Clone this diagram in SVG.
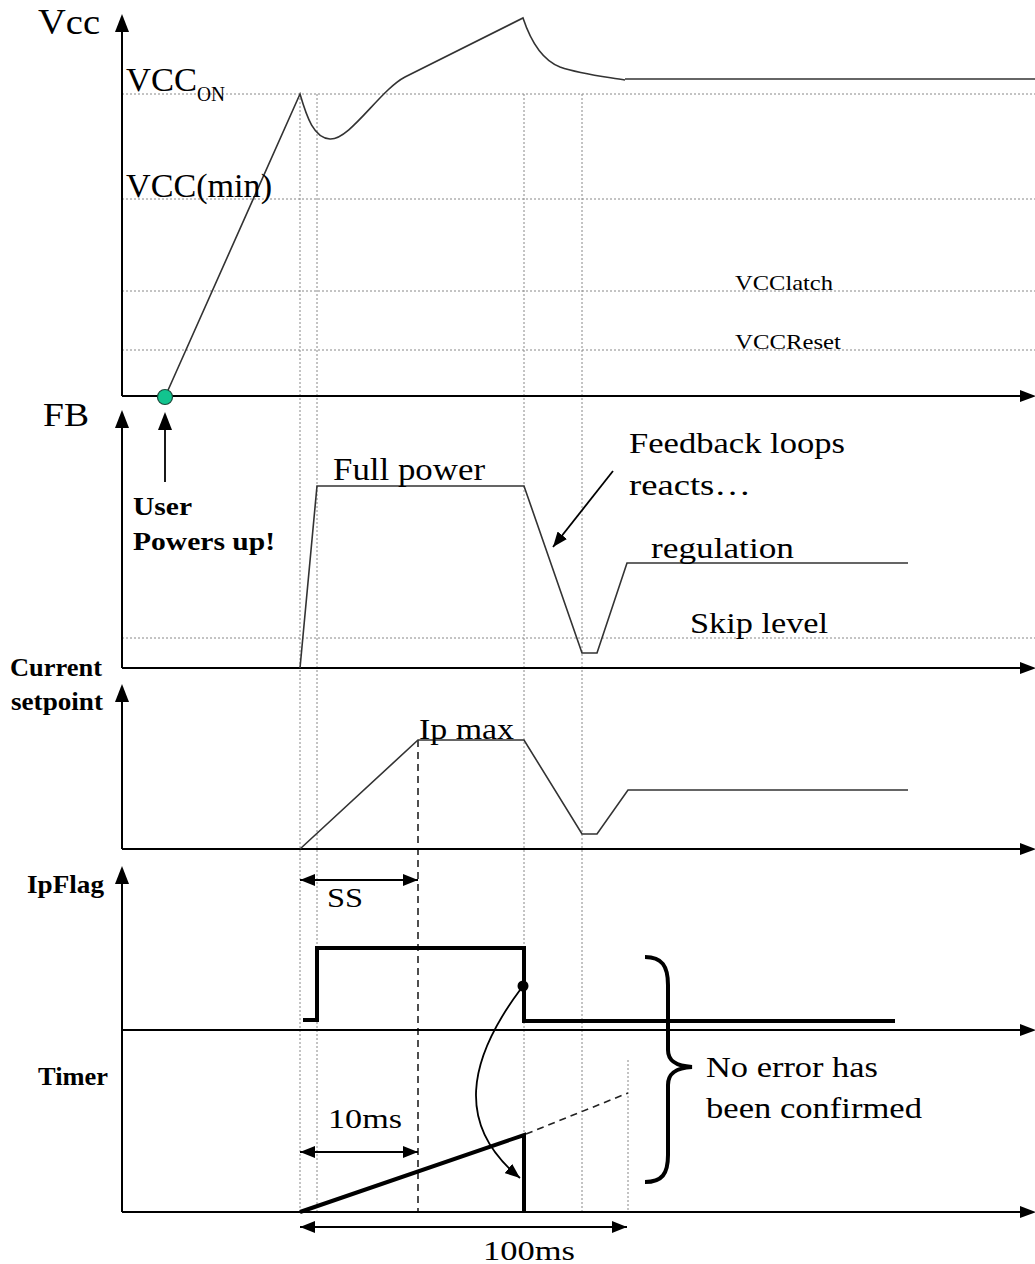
<svg xmlns="http://www.w3.org/2000/svg" width="1035" height="1264" viewBox="0 0 1035 1264">
<style>
text{font-family:"Liberation Serif","Times New Roman",serif;fill:#000}
.b{font-weight:bold}
.axis{stroke:#000;stroke-width:2;fill:none}
.grid{stroke:#888;stroke-width:1;stroke-dasharray:2 2;fill:none}
.wave{stroke:#333;stroke-width:1.6;fill:none;stroke-linejoin:miter}
.thick{stroke:#000;stroke-width:4;fill:none}
.dim{stroke:#000;stroke-width:1.8;fill:none}
.dash{stroke:#222;stroke-width:1.6;stroke-dasharray:7 5;fill:none}
.head{fill:#000}
</style>
<defs>
<marker id="ah" markerUnits="userSpaceOnUse" viewBox="0 0 15 12" refX="15" refY="6" markerWidth="15" markerHeight="12" orient="auto-start-reverse">
<path d="M0,0 L15,6 L0,12 z" fill="#000"/>
</marker>
</defs>
<rect width="1035" height="1264" fill="#fff"/>

<g id="grid">
<path class="grid" d="M122,94H1035M122,199H1035M122,291H1035M122,350H1035M122,638H1035"/>
<path class="grid" d="M300,94V1212M317,94V1212M524,94V1212M582,94V1212M628,1060V1212"/>
<path class="dash" d="M418,740V1212"/>
</g>

<g id="axes">
<path class="axis" d="M122,28V396M122,424V668M122,698V849M122,880V1212"/>
<path class="axis" d="M122,396H1022M122,668H1022M122,849H1022M122,1030H1022M122,1212H1022"/>
<polygon class="head" points="122,14 115,32 129,32"/>
<polygon class="head" points="122,410 115,428 129,428"/>
<polygon class="head" points="122,684 115,702 129,702"/>
<polygon class="head" points="122,866 115,884 129,884"/>
<polygon class="head" points="1036,396 1020,390 1020,402"/>
<polygon class="head" points="1036,668 1020,662 1020,674"/>
<polygon class="head" points="1036,849 1020,843 1020,855"/>
<polygon class="head" points="1036,1030 1020,1024 1020,1036"/>
<polygon class="head" points="1036,1212 1020,1206 1020,1218"/>
</g>

<g id="vcc-wave">
<path class="wave" d="M165,397 L300,94 C307,118 314,138 330,139 C350,140 380,90 405,77 L523,18 C531,42 542,60 560,67 C580,74 600,76 625,80"/>
<path class="wave" stroke-width="2.4" d="M625,79H1035"/>
<circle cx="165" cy="397" r="7.5" fill="#12c48f" stroke="#1a4a3a" stroke-width="1.2"/>
</g>

<g id="fb-wave">
<path class="wave" d="M300,668 L317,486 H524 L582,653 H597 L627,563 H908"/>
</g>

<g id="current-wave">
<path class="wave" d="M300,849 L418,740 H524 L582,834 H597 L628,790 H908"/>
</g>

<g id="ipflag-wave">
<path class="thick" stroke-width="3.5" d="M303,1020 H317 V948 H524 V1021 H895"/>
<circle cx="523" cy="986" r="5.5" fill="#000"/>
</g>

<g id="timer-wave">
<path class="thick" d="M300,1212 L524,1135 V1212"/>
<path class="dash" stroke-width="1.4" d="M526,1134 L628,1093"/>
</g>

<g id="connectors">
<path class="dim" d="M165,482 V428"/>
<polygon class="head" points="165,412 158,430 172,430"/>
<path class="dim" stroke-width="1.6" d="M613,471 L553,547" marker-end="url(#ah)"/>
<path class="dim" stroke-width="1.2" d="M520,990 C468,1060 455,1125 520,1178" marker-end="url(#ah)"/>
<path class="dim" d="M300,880 H418" marker-start="url(#ah)" marker-end="url(#ah)"/>
<path class="dim" d="M300,1152 H418" marker-start="url(#ah)" marker-end="url(#ah)"/>
<path class="dim" d="M300,1227 H627" marker-start="url(#ah)" marker-end="url(#ah)"/>
<path class="thick" d="M645,957 C662,957 668,966 668,985 L668,1050 C668,1061 676,1066 692,1067 C676,1068 668,1073 668,1085 L668,1155 C668,1174 662,1182 645,1182"/>
</g>

<g id="labels">
<text x="38" y="34" font-size="36" textLength="62" lengthAdjust="spacingAndGlyphs">Vcc</text>
<text x="126" y="91" font-size="33" textLength="71" lengthAdjust="spacingAndGlyphs">VCC</text>
<text x="197" y="101" font-size="20" textLength="28" lengthAdjust="spacingAndGlyphs">ON</text>
<text x="126" y="197" font-size="33" textLength="146" lengthAdjust="spacingAndGlyphs">VCC(min)</text>
<text x="735" y="290" font-size="22" textLength="98" lengthAdjust="spacingAndGlyphs">VCClatch</text>
<text x="735" y="349" font-size="22" textLength="106" lengthAdjust="spacingAndGlyphs">VCCReset</text>
<text x="43" y="426" font-size="34" textLength="46" lengthAdjust="spacingAndGlyphs">FB</text>
<text class="b" x="133" y="515" font-size="26" textLength="59" lengthAdjust="spacingAndGlyphs">User</text>
<text class="b" x="133" y="550" font-size="26" textLength="142" lengthAdjust="spacingAndGlyphs">Powers up!</text>
<text x="333" y="480" font-size="31" textLength="152" lengthAdjust="spacingAndGlyphs">Full power</text>
<text x="629" y="453" font-size="30" textLength="216" lengthAdjust="spacingAndGlyphs">Feedback loops</text>
<text x="629" y="495" font-size="30" textLength="122" lengthAdjust="spacingAndGlyphs">reacts…</text>
<text x="651" y="558" font-size="30" textLength="143" lengthAdjust="spacingAndGlyphs">regulation</text>
<text x="690" y="633" font-size="30" textLength="138" lengthAdjust="spacingAndGlyphs">Skip level</text>
<text class="b" x="10" y="676" font-size="25" textLength="92" lengthAdjust="spacingAndGlyphs">Current</text>
<text class="b" x="11" y="710" font-size="25" textLength="92" lengthAdjust="spacingAndGlyphs">setpoint</text>
<text x="419" y="739" font-size="30" textLength="95" lengthAdjust="spacingAndGlyphs">Ip max</text>
<text class="b" x="27" y="893" font-size="25" textLength="77" lengthAdjust="spacingAndGlyphs">IpFlag</text>
<text x="327" y="907" font-size="28" textLength="36" lengthAdjust="spacingAndGlyphs">SS</text>
<text class="b" x="38" y="1085" font-size="25" textLength="70" lengthAdjust="spacingAndGlyphs">Timer</text>
<text x="328" y="1128" font-size="28" textLength="74" lengthAdjust="spacingAndGlyphs">10ms</text>
<text x="483" y="1260" font-size="28" textLength="92" lengthAdjust="spacingAndGlyphs">100ms</text>
<text x="706" y="1077" font-size="30" textLength="172" lengthAdjust="spacingAndGlyphs">No error has</text>
<text x="706" y="1118" font-size="30" textLength="216" lengthAdjust="spacingAndGlyphs">been confirmed</text>
</g>
</svg>
